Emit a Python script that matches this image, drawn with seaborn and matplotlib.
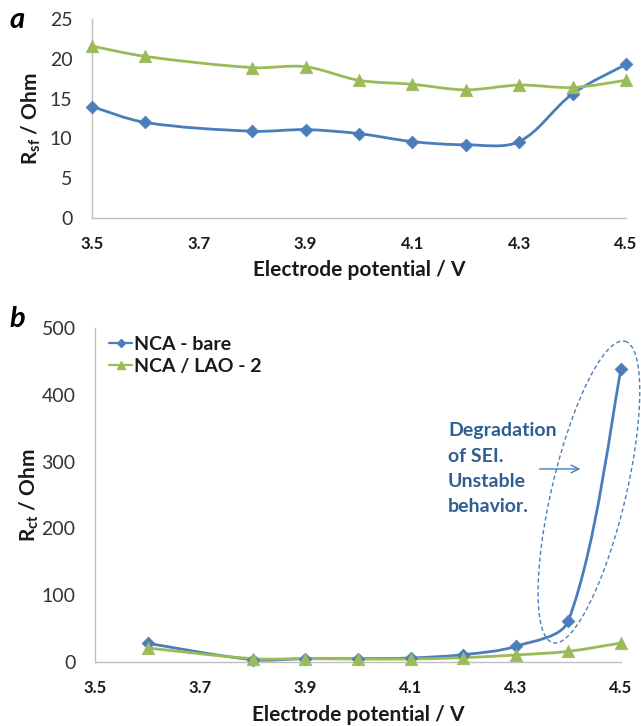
import numpy as np
import pandas as pd
import matplotlib
matplotlib.use("Agg")
import matplotlib.pyplot as plt
import seaborn as sns
from matplotlib.path import Path
from matplotlib.patches import PathPatch
from matplotlib.lines import Line2D

# ---- data -------------------------------------------------------------
series_names = ["NCA - bare", "NCA / LAO - 2"]

potential_a = [3.5, 3.6, 3.8, 3.9, 4.0, 4.1, 4.2, 4.3, 4.4, 4.5]
rsf_bare = [14.0, 12.0, 10.9, 11.1, 10.6, 9.6, 9.2, 9.6, 15.6, 19.3]
rsf_lao = [21.6, 20.3, 18.9, 19.0, 17.3, 16.8, 16.1, 16.7, 16.4, 17.3]

potential_b = [3.6, 3.8, 3.9, 4.0, 4.1, 4.2, 4.3, 4.4, 4.5]
rct_bare = [28.0, 3.5, 5.0, 5.0, 6.0, 11.0, 23.5, 62.0, 438.0]
rct_lao = [21.0, 5.0, 5.0, 4.5, 4.5, 6.5, 10.5, 16.0, 28.5]

x_ticks = [3.5, 3.7, 3.9, 4.1, 4.3, 4.5]
y_ticks_a = [0, 5, 10, 15, 20, 25]
y_ticks_b = [0, 100, 200, 300, 400, 500]

x_title = "Electrode potential / V"
y_title_a = r"R$_{\mathregular{sf}}$ / Ohm"
y_title_b = r"R$_{\mathregular{ct}}$ / Ohm"
note_text = "Degradation\nof SEI.\nUnstable\nbehavior."

# ---- style ------------------------------------------------------------
sns.set_theme(style="white")
plt.rcParams["font.family"] = ["Lato", "DejaVu Sans"]

BLUE = "#4A7EBB"
GREEN = "#9BBB59"
NOTE = "#2F5F91"
SPINE = "#BFBFBF"
palette = {series_names[0]: BLUE, series_names[1]: GREEN}
markers = {series_names[0]: "D", series_names[1]: "^"}
msize = {series_names[0]: 6.5, series_names[1]: 9}

W, H = 641, 726
fig = plt.figure(figsize=(W / 100, H / 100), dpi=100)


def px_axes(left, right, top, bottom):
    return fig.add_axes([left / W, 1 - bottom / H, (right - left) / W, (bottom - top) / H])


ax_a = px_axes(92, 626, 19, 218)
ax_b = px_axes(95, 621, 328, 662)


def long_frame(x, a, b):
    return pd.DataFrame({
        "potential": list(x) * 2,
        "value": list(a) + list(b),
        "series": [series_names[0]] * len(x) + [series_names[1]] * len(x),
    })


def smooth_line(ax, xs, ys, color, tension=1 / 6):
    """Smoothed Bezier line through the points, built in screen space."""
    pts = ax.transData.transform(np.column_stack([xs, ys]))
    n = len(pts)
    verts = [pts[0]]
    codes = [Path.MOVETO]
    for i in range(n - 1):
        p0 = pts[i - 1] if i > 0 else pts[i]
        p1, p2 = pts[i], pts[i + 1]
        p3 = pts[i + 2] if i + 2 < n else pts[i + 1]
        d = np.linalg.norm(p2 - p1)
        d0 = np.linalg.norm(p1 - p0)
        d3 = np.linalg.norm(p3 - p2)
        s1 = 2 * d / (d0 + d) if d0 > 0 else 1.0
        s2 = 2 * d / (d + d3) if d3 > 0 else 1.0
        c1 = p1 + (p2 - p0) * tension * s1
        c2 = p2 - (p3 - p1) * tension * s2
        verts += [c1, c2, p2]
        codes += [Path.CURVE4] * 3
    verts = ax.transData.inverted().transform(np.array(verts))
    ax.add_patch(PathPatch(Path(verts, codes), facecolor="none", edgecolor=color,
                           lw=2.0, capstyle="round", joinstyle="round", zorder=2))


def style_axes(ax, ylim, yticks):
    ax.set_xlim(3.5, 4.5)
    ax.set_ylim(*ylim)
    ax.set_xticks(x_ticks)
    ax.set_xticklabels([f"{v:.1f}" for v in x_ticks], fontsize=12, fontweight="bold", color="#1a1a1a")
    ax.set_yticks(yticks)
    ax.set_yticklabels([str(v) for v in yticks], fontsize=14, color="#333333")
    for side in ("top", "right"):
        ax.spines[side].set_visible(False)
    for side in ("left", "bottom"):
        ax.spines[side].set_color(SPINE)
        ax.spines[side].set_linewidth(1.0)
    ax.tick_params(axis="both", which="major", length=6, width=1.0, color=SPINE, direction="out")
    ax.tick_params(axis="x", pad=7)
    ax.tick_params(axis="y", pad=8)
    ax.grid(False)
    ax.set_facecolor("white")


def draw_panel(ax, x, a, b, ylim, yticks, ytitle, xlab_y, ylab_x):
    style_axes(ax, ylim, yticks)
    df = long_frame(x, a, b)
    for name, vals in zip(series_names, (a, b)):
        smooth_line(ax, x, vals, palette[name])
    for name in series_names:
        sub = df[df["series"] == name]
        sns.scatterplot(data=sub, x="potential", y="value", ax=ax, color=palette[name],
                        marker=markers[name], s=msize[name] ** 2, edgecolor=palette[name],
                        linewidth=0.5, legend=False, zorder=3, clip_on=False)
    style_axes(ax, ylim, yticks)
    ax.set_xlabel(x_title, fontsize=15, fontweight="bold", color="#1a1a1a")
    ax.set_ylabel(ytitle, fontsize=15, fontweight="bold", color="#1a1a1a")
    ax.xaxis.label.set_va("center")
    ax.yaxis.label.set_va("center")
    ax.xaxis.set_label_coords(0.5, xlab_y)
    ax.yaxis.set_label_coords(ylab_x, 0.5)


# panel a: axes 92..626 x 19..218 px; panel b: 95..621 x 328..662 px
draw_panel(ax_a, potential_a, rsf_bare, rsf_lao, (0, 25), y_ticks_a, y_title_a,
           -(270 - 218) / 199, -(92 - 31) / 534)
draw_panel(ax_b, potential_b, rct_bare, rct_lao, (0, 500), y_ticks_b, y_title_b,
           -(715 - 662) / 334, -(95 - 29) / 526)

# panel letters
fig.text(17 / W, 1 - 20 / H, "a", fontsize=21, fontweight="bold", fontstyle="italic",
         ha="center", va="center", color="black")
fig.text(17 / W, 1 - 319 / H, "b", fontsize=21, fontweight="bold", fontstyle="italic",
         ha="center", va="center", color="black")

# legend (panel b)
handles = [Line2D([0], [0], color=palette[n], lw=1.6, marker=markers[n],
                  markersize=msize[n] * 0.6, markeredgecolor=palette[n]) for n in series_names]
leg = fig.legend(handles, series_names, loc="upper left",
                 bbox_to_anchor=(109 / W, 1 - 336 / H), frameon=False,
                 prop={"family": ["Lato", "DejaVu Sans"], "weight": "bold", "size": 14},
                 handlelength=1.2, handletextpad=0.1, labelspacing=0.25,
                 borderpad=0, borderaxespad=0)
for t in leg.get_texts():
    t.set_color("#1a1a1a")

# dashed ellipse around the unstable region (built in screen space)
centre = ax_b.transData.transform([(4.439, 254.5)])[0]
a_semi, b_semi = 155.0, 37.0
tilt = np.deg2rad(13.4)
t = np.linspace(0, 2 * np.pi, 400)
ex = a_semi * np.cos(t)
ey = b_semi * np.sin(t)
# major axis leans to the right going upward
dx = ex * np.sin(tilt) + ey * np.cos(tilt)
dy = ex * np.cos(tilt) - ey * np.sin(tilt)
ell = ax_b.transData.inverted().transform(np.column_stack([centre[0] + dx, centre[1] + dy]))
ax_b.plot(ell[:, 0], ell[:, 1], color=BLUE, lw=1.0, ls=(0, (3, 2)), clip_on=False, zorder=1)

# arrow and note
ax_b.annotate("", xy=(4.428, 289), xytext=(4.340, 289),
              arrowprops=dict(arrowstyle="->", color=BLUE, lw=1.0, mutation_scale=14),
              annotation_clip=False)
ax_b.text(4.171, 359, note_text, ha="left", va="top", fontsize=14, fontweight="bold",
          color=NOTE, linespacing=1.6)

fig.savefig("out.png", dpi=100, facecolor="white")
